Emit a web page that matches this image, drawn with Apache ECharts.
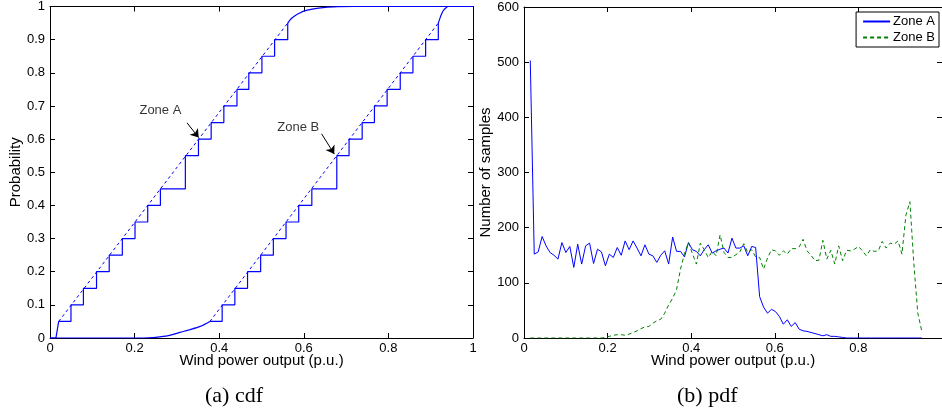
<!DOCTYPE html>
<html>
<head>
<meta charset="utf-8">
<script src="https://cdn.jsdelivr.net/npm/echarts@6/dist/echarts.min.js"></script>
<style>
  html, body { margin: 0; padding: 0; background: #fff; }
  #chart { width: 942px; height: 413px; }
</style>
</head>
<body>
<div id="chart"></div>
<script>
// ---- (a) cdf : step curves (empirical) and straight dashed lines (fitted) ----
const aLowTail = [[0, 0], [0.014, 0], [0.0205, 0.05]];
const aStairs = [[0.0205, 0.05], [0.0496, 0.10], [0.079, 0.15], [0.110, 0.20], [0.140, 0.25],
  [0.171, 0.30], [0.201, 0.35], [0.231, 0.40], [0.261, 0.45], [0.320, 0.55], [0.351, 0.60],
  [0.381, 0.65], [0.411, 0.70], [0.442, 0.75], [0.470, 0.80], [0.501, 0.85], [0.531, 0.90],
  [0.562, 0.95]];
const aLine = [[0.0205, 0.05], [0.562, 0.95]];
const aHighTail = [[0.562, 0.95], [0.57, 0.963], [0.58, 0.973], [0.59, 0.98], [0.60, 0.986],
  [0.62, 0.992], [0.64, 0.996], [0.67, 0.999], [0.72, 1], [1, 1]];

const bLowTail = [[0, 0], [0.22, 0], [0.25, 0.002], [0.28, 0.007], [0.307, 0.017],
  [0.33, 0.025], [0.355, 0.035], [0.378, 0.05]];
const bStairs = [[0.378, 0.05], [0.407, 0.10], [0.437, 0.15], [0.467, 0.20], [0.498, 0.25],
  [0.528, 0.30], [0.558, 0.35], [0.588, 0.40], [0.619, 0.45], [0.678, 0.55], [0.707, 0.60],
  [0.738, 0.65], [0.767, 0.70], [0.797, 0.75], [0.828, 0.80], [0.858, 0.85], [0.888, 0.90],
  [0.918, 0.95]];
const bLine = [[0.378, 0.05], [0.918, 0.95]];
const bHighTail = [[0.918, 0.95], [0.922, 0.965], [0.926, 0.978], [0.93, 0.988],
  [0.935, 0.995], [0.942, 1], [1, 1]];

// annotation labels and arrows (data coordinates of the cdf panel)
const annotText = [[0.261, 0.688, 'Zone A'], [0.587, 0.634, 'Zone B']];
const annotArrows = [
  [[0.324, 0.649], [0.3515, 0.6045]],
  [[0.642, 0.616], [0.672, 0.555]]
];

// ---- (b) pdf : histogram counts, 100 bins ----
const binStart = 0.015;
const binWidth = 0.00946;
const zoneAPdf = [503, 152, 156, 184, 167, 155, 150, 143, 173, 155,
  166, 128, 170, 134, 167, 172, 135, 161, 156, 131,
  152, 146, 164, 150, 176, 160, 176, 163, 149, 169,
  152, 149, 137, 150, 158, 134, 183, 157, 157, 147,
  173, 160, 157, 149, 160, 169, 154, 158, 161, 163,
  154, 181, 163, 163, 167, 149, 166, 164, 75, 56,
  45, 52, 48, 39, 25, 33, 21, 28, 16, 13,
  12, 10, 8, 6, 4, 6, 3, 3, 2, 1,
  0, 0, 0, 0, 0, 0, 0, 0, 0, 0,
  0, 0, 0, 0, 0, 0, 0, 0, 0, 0];
const zoneBPdf = [0, 0, 0, 0, 0, 0, 0, 0, 0, 0,
  0, 0, 0, 0, 0, 0, 0, 0, 0, 1,
  3, 5, 6, 6, 5, 7, 10, 13, 17, 20,
  21, 27, 31, 34, 45, 60, 72, 88, 125, 153,
  173, 153, 134, 172, 160, 146, 157, 149, 187, 155,
  146, 146, 151, 156, 171, 155, 160, 147, 146, 125,
  145, 160, 158, 150, 158, 152, 162, 162, 165, 179,
  158, 150, 140, 141, 177, 143, 159, 134, 167, 140,
  159, 158, 161, 166, 158, 149, 160, 157, 158, 175,
  163, 172, 170, 176, 152, 223, 247, 135, 45, 13];

const binCentres = zoneAPdf.map((_, i) => +(binStart + i * binWidth).toFixed(4));
const pairs = (vals) => vals.map((v, i) => [binCentres[i], v]);

const FONT = "'Liberation Sans', Arial, sans-serif";
const SERIF = "'Liberation Serif', 'Times New Roman', serif";
const BLUE = '#0000ff';
const GREEN = '#008000';

function xAx(grid, withLabels, showMax) {
  return {
    gridIndex: grid, type: 'value', min: 0, max: 1, interval: 0.2,
    position: withLabels ? 'bottom' : 'top',
    name: withLabels ? 'Wind power output (p.u.)' : '',
    nameLocation: 'middle', nameGap: 15, nameMoveOverlap: false,
    nameTextStyle: { color: '#000', fontSize: 15, fontFamily: FONT },
    axisLine: { show: true, onZero: false, lineStyle: { color: '#000', width: 1 } },
    axisTick: { show: true, inside: true, length: 5, lineStyle: { color: '#000' } },
    axisLabel: { show: withLabels, showMaxLabel: showMax, color: '#000', fontSize: 13,
      fontFamily: FONT, margin: 4 },
    splitLine: { show: false }
  };
}

function yAx(grid, withLabels, max, interval, name, gap) {
  return {
    gridIndex: grid, type: 'value', min: 0, max: max, interval: interval,
    position: withLabels ? 'left' : 'right',
    name: withLabels ? name : '',
    nameLocation: 'middle', nameGap: gap,
    nameTextStyle: { color: '#000', fontSize: 15, fontFamily: FONT },
    axisLine: { show: true, onZero: false, lineStyle: { color: '#000', width: 1 } },
    axisTick: { show: true, inside: true, length: 5, lineStyle: { color: '#000' } },
    axisLabel: { show: withLabels, color: '#000', fontSize: 13, fontFamily: FONT, margin: 5 },
    splitLine: { show: false }
  };
}

function cdfLine(name, data, opts) {
  return Object.assign({
    name: name, type: 'line', xAxisIndex: 0, yAxisIndex: 0, data: data,
    symbol: 'none', silent: true,
    lineStyle: { color: BLUE, width: 1.2 }
  }, opts || {});
}

const chart = echarts.init(document.getElementById('chart'));
chart.setOption({
  animation: false,
  backgroundColor: '#fff',
  title: [
    { text: '(a) cdf', left: 205, top: 385, padding: 0,
      textStyle: { fontFamily: SERIF, fontSize: 22, fontWeight: 'normal', color: '#000' } },
    { text: '(b) pdf', left: 677, top: 385, padding: 0,
      textStyle: { fontFamily: SERIF, fontSize: 22, fontWeight: 'normal', color: '#000' } }
  ],
  legend: {
    data: ['Zone A', 'Zone B'],
    orient: 'vertical', right: 3, top: 12,
    itemWidth: 27, itemHeight: 10, itemGap: 3,
    padding: [3, 4, 3, 6],
    borderColor: '#000', borderWidth: 1, borderRadius: 0,
    backgroundColor: '#fff',
    itemStyle: { color: 'rgba(0,0,0,0)', borderWidth: 0 },
    textStyle: { color: '#000', fontSize: 13, fontFamily: FONT, padding: [0, 0, 0, -2] }
  },
  grid: [
    { left: 50, top: 5, width: 423, height: 333 },
    { left: 524, top: 7, width: 420, height: 331 }
  ],
  xAxis: [xAx(0, true, true), xAx(0, false, true), xAx(1, true, false), xAx(1, false, false)],
  yAxis: [
    yAx(0, true, 1, 0.1, 'Probability', 27),
    yAx(0, false, 1, 0.1, '', 0),
    yAx(1, true, 600, 100, 'Number of samples', 29),
    yAx(1, false, 600, 100, '', 0)
  ],
  series: [
    cdfLine('A low tail', aLowTail),
    cdfLine('A stairs', aStairs, { step: 'end' }),
    cdfLine('A fit', aLine, { lineStyle: { color: BLUE, width: 1, type: [3, 3] } }),
    cdfLine('A high tail', aHighTail, { smooth: 0.3 }),
    cdfLine('B low tail', bLowTail, { smooth: 0.3 }),
    cdfLine('B stairs', bStairs, { step: 'end' }),
    cdfLine('B fit', bLine, { lineStyle: { color: BLUE, width: 1, type: [3, 3] } }),
    cdfLine('B high tail', bHighTail, { smooth: 0.3 }),
    {
      name: 'annotations', type: 'scatter', xAxisIndex: 0, yAxisIndex: 0,
      data: annotText, symbolSize: 1, silent: true,
      itemStyle: { color: 'rgba(0,0,0,0)' },
      label: { show: true, position: 'inside', color: '#000', fontSize: 13, fontFamily: FONT,
        formatter: (p) => p.value[2] },
      markLine: {
        silent: true, symbol: ['none', 'arrow'], symbolSize: 8,
        lineStyle: { color: '#000', width: 1, type: 'solid' },
        label: { show: false },
        data: annotArrows.map((a) => [{ coord: a[0] }, { coord: a[1] }])
      }
    },
    {
      name: 'Zone A', type: 'line', xAxisIndex: 2, yAxisIndex: 2,
      data: pairs(zoneAPdf), symbol: 'none',
      lineStyle: { color: BLUE, width: 1 }, itemStyle: { color: BLUE }
    },
    {
      name: 'Zone B', type: 'line', xAxisIndex: 2, yAxisIndex: 2,
      data: pairs(zoneBPdf), symbol: 'none',
      lineStyle: { color: GREEN, width: 1, type: [4, 3] }, itemStyle: { color: GREEN }
    }
  ]
});
</script>
</body>
</html>
